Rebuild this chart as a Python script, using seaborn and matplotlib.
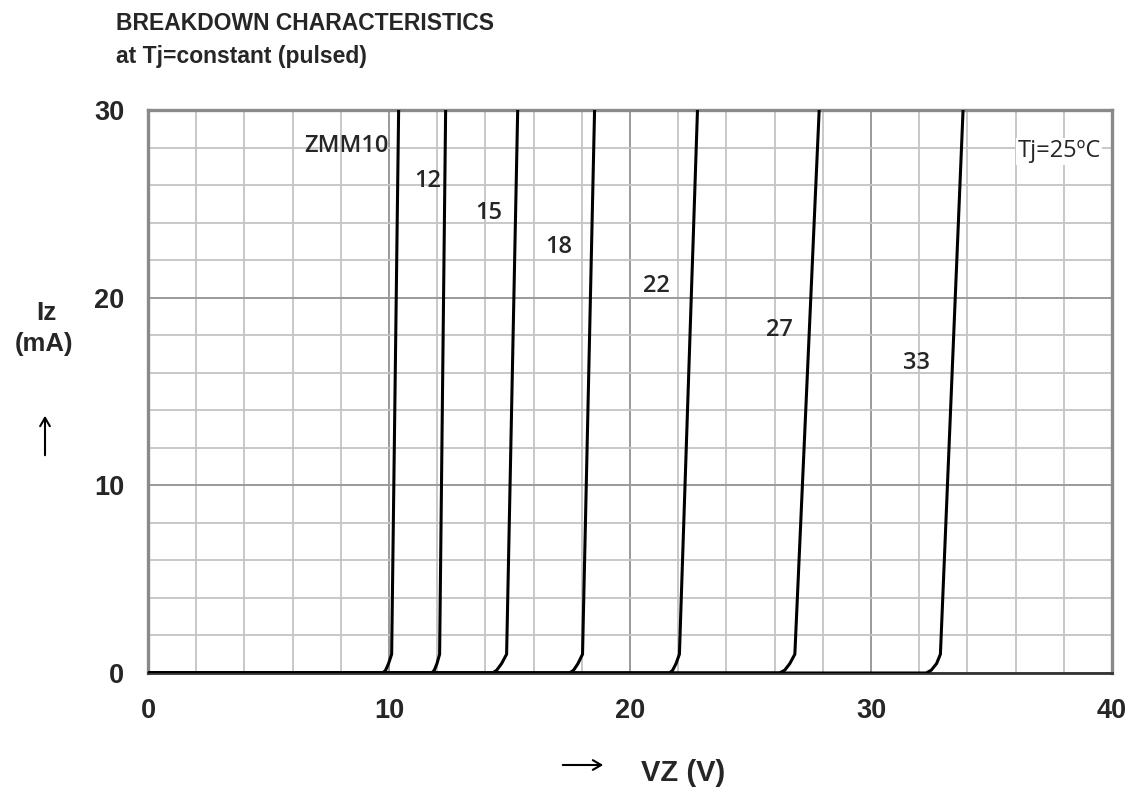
import numpy as np
import pandas as pd
import seaborn as sns
import matplotlib.pyplot as plt
from matplotlib.ticker import MultipleLocator
from matplotlib.patches import FancyArrowPatch

# Zener breakdown curves: voltage read at fixed current levels for each type
types = ["10", "12", "15", "18", "22", "27", "33"]
current_levels = [0.0, 0.0, 0.15, 0.5, 1.0, 30.0]     # mA
v_origin = [0.0, 0.0, 0.0, 0.0, 0.0, 0.0, 0.0]        # V, start of the flat part
v_knee_start = [9.74, 11.77, 14.30, 17.49, 21.64, 26.20, 32.29]
v_low_ma = [9.86, 11.88, 14.47, 17.66, 21.77, 26.42, 32.50]
v_half_ma = [9.98, 11.99, 14.67, 17.84, 21.91, 26.63, 32.72]
v_one_ma = [10.11, 12.10, 14.88, 18.03, 22.05, 26.84, 32.88]
v_thirty_ma = [10.40, 12.35, 15.34, 18.53, 22.80, 27.85, 33.82]

# curve labels and their anchor positions (V, mA)
label_texts = ["ZMM10", "12", "15", "18", "22", "27", "33"]
label_v = [10.0, 11.6, 14.15, 17.05, 21.1, 26.2, 31.9]
label_i = [28.1, 26.2, 24.5, 22.7, 20.6, 18.3, 16.5]

rows = []
for k, t in enumerate(types):
    volts = [v_origin[k], v_knee_start[k], v_low_ma[k], v_half_ma[k], v_one_ma[k], v_thirty_ma[k]]
    for order, (v, i) in enumerate(zip(volts, current_levels)):
        rows.append({"type": t, "order": order, "VZ": v, "IZ": i})
df = pd.DataFrame(rows)

sns.set_style("white")
plt.rcParams["font.family"] = ["Liberation Sans", "DejaVu Sans"]

W, H = 1133, 787
fig = plt.figure(figsize=(W / 100, H / 100), dpi=100)
ax = fig.add_axes([148 / W, 114 / H, 964 / W, 563 / H])

sns.lineplot(data=df, x="VZ", y="IZ", units="type", estimator=None, sort=False,
             color="black", linewidth=2.2, ax=ax, zorder=3)

ax.set_xlim(0, 40)
ax.set_ylim(0, 30)
ax.xaxis.set_major_locator(MultipleLocator(10))
ax.xaxis.set_minor_locator(MultipleLocator(2))
ax.yaxis.set_major_locator(MultipleLocator(10))
ax.yaxis.set_minor_locator(MultipleLocator(2))
ax.grid(which="minor", color="#c4c4c4", linewidth=1.3, zorder=0)
ax.grid(which="major", color="#9a9a9a", linewidth=1.4, zorder=0)
ax.set_axisbelow(True)
ax.tick_params(which="both", length=0)
ax.tick_params(axis="y", pad=17)
ax.tick_params(axis="x", pad=18)
for lab in ax.get_xticklabels() + ax.get_yticklabels():
    lab.set_fontweight("bold")
    lab.set_fontsize(19.5)
ax.set_xlabel("")
ax.set_ylabel("")
for side in ["top", "right", "left"]:
    ax.spines[side].set_color("#8a8a8a")
    ax.spines[side].set_linewidth(2.4)
ax.spines["bottom"].set_color("#333333")
ax.spines["bottom"].set_linewidth(2.0)

label_font = ["Open Sans", "DejaVu Sans"]
for txt, v, i in zip(label_texts, label_v, label_i):
    ha = "right" if txt.startswith("ZMM") else "center"
    ax.text(v, i, txt, ha=ha, va="center", fontsize=17, fontweight="semibold",
            family=label_font, zorder=4)

ax.text(37.8, 27.8, "Tj=25\u00baC", ha="center", va="center", fontsize=17,
        family=label_font, zorder=4,
        bbox=dict(facecolor="white", edgecolor="none", pad=1))

# titles and axis captions
fig.text(116 / W, 1 - 24 / H, "BREAKDOWN CHARACTERISTICS", ha="left", va="center",
         fontsize=16.5, fontweight="bold")
fig.text(116 / W, 1 - 57 / H, "at Tj=constant (pulsed)", ha="left", va="center",
         fontsize=16.5, fontweight="bold")
fig.text(46 / W, 1 - 313 / H, "Iz", ha="center", va="center", fontsize=19, fontweight="bold")
fig.text(44 / W, 1 - 344 / H, "(mA)", ha="center", va="center", fontsize=18.5, fontweight="bold")
fig.text(683 / W, 1 - 773 / H, "VZ (V)", ha="center", va="center", fontsize=21,
         fontweight="bold")

# thin direction arrows next to the axis captions
for (x0, y0), (x1, y1) in [((45, 458), (45, 413)), ((560, 765), (606, 765))]:
    fig.patches.append(FancyArrowPatch((x0 / W, 1 - y0 / H), (x1 / W, 1 - y1 / H),
                                       transform=fig.transFigure, arrowstyle="->,head_length=6,head_width=3.5",
                                       color="black", linewidth=1.5, mutation_scale=1))

fig.savefig("out.png", dpi=100)
